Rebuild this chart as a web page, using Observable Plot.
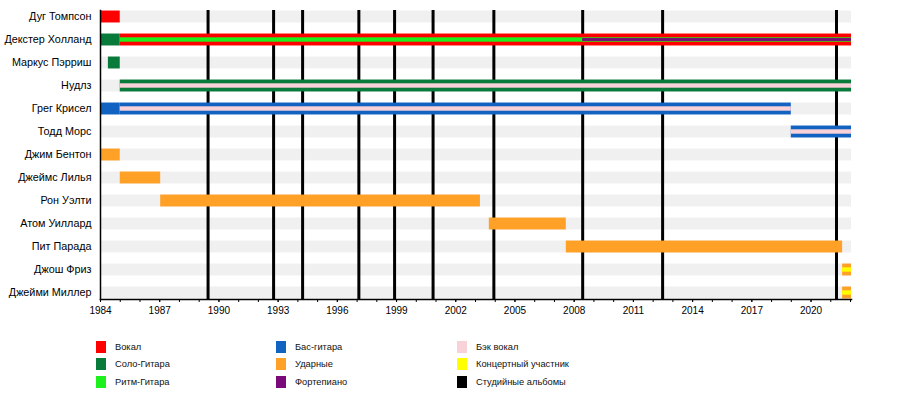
<!DOCTYPE html>
<html>
<head>
<meta charset="utf-8">
<script src="https://cdn.jsdelivr.net/npm/d3@7"></script>
<script src="https://cdn.jsdelivr.net/npm/@observablehq/plot@0.6"></script>
<style>
  body { margin: 0; background: #fff; font-family: "Liberation Sans", Arial, sans-serif; }
  #chart svg { display: block; }
  #legend { position: relative; width: 900px; height: 64px; }
  .item { position: absolute; height: 17.5px; display: flex; align-items: center; font-size: 9.3px; color: #111; }
  .sw { width: 10px; height: 12px; margin-right: 9px; }
</style>
</head>
<body>
<div id="chart"></div>
<div id="legend"></div>
<script>
// Members (rows, top to bottom)
const members = [
  "Дуг Томпсон", "Декстер Холланд", "Маркус Пэрриш", "Нудлз", "Грег Крисел",
  "Тодд Морс", "Джим Бентон", "Джеймс Лилья", "Рон Уэлти", "Атом Уиллард",
  "Пит Парада", "Джош Фриз", "Джейми Миллер"
];

// Roles and colours
const roleKeys   = ["vocals", "lead", "rhythm", "bass", "drums", "piano", "backing", "live", "album"];
const roleLabels = ["Вокал", "Соло-Гитара", "Ритм-Гитара", "Бас-гитара", "Ударные", "Фортепиано", "Бэк вокал", "Концертный участник", "Студийные альбомы"];
const roleColors = ["#ff0000", "#087a3a", "#1ef01e", "#1262c2", "#ffa126", "#7a0a7a", "#f8d2d8", "#ffff00", "#000000"];

const timelineStart = 1984;
const timelineEnd = 2022.05;

// Full-height bars: [member, role, start, end]
const mainSpans = [
  ["Дуг Томпсон", "vocals", 1984, 1985],
  ["Декстер Холланд", "lead", 1984, 1985],
  ["Декстер Холланд", "vocals", 1985, timelineEnd],
  ["Маркус Пэрриш", "lead", 1984.4, 1985],
  ["Нудлз", "lead", 1985, timelineEnd],
  ["Грег Крисел", "bass", 1984, 1985],
  ["Грег Крисел", "bass", 1985, 2019.0],
  ["Тодд Морс", "bass", 2019.0, timelineEnd],
  ["Джим Бентон", "drums", 1984, 1985],
  ["Джеймс Лилья", "drums", 1985, 1987.05],
  ["Рон Уэлти", "drums", 1987.05, 2003.25],
  ["Атом Уиллард", "drums", 2003.7, 2007.6],
  ["Пит Парада", "drums", 2007.6, 2021.6],
  ["Джош Фриз", "drums", 2021.6, timelineEnd],
  ["Джейми Миллер", "drums", 2021.6, timelineEnd]
];

// Medium stripes
const midSpans = [
  ["Декстер Холланд", "rhythm", 1985, timelineEnd],
  ["Нудлз", "backing", 1985, timelineEnd],
  ["Грег Крисел", "backing", 1985, 2019.0],
  ["Тодд Морс", "backing", 2019.0, timelineEnd],
  ["Джош Фриз", "live", 2021.6, timelineEnd],
  ["Джейми Миллер", "live", 2021.6, timelineEnd]
];

// Thin inner stripes
const innerSpans = [
  ["Декстер Холланд", "piano", 2008.43, timelineEnd]
];

// Studio albums (release dates, decimal years)
const albums = [1989.45, 1992.77, 1994.24, 1997.09, 1998.9, 2000.85, 2003.93, 2008.43, 2012.48, 2021.29];

// Axis ticks
const majorTicks = [1984, 1987, 1990, 1993, 1996, 1999, 2002, 2005, 2008, 2011, 2014, 2017, 2020];
const minorTicks = d3.range(1984, 2023);

const colorOf = Object.fromEntries(roleKeys.map((k, i) => [k, roleColors[i]]));
const toObj = ([member, role, start, end]) => ({member, role, start, end});

const step = 23.09;         // row pitch in px
const firstCenter = 16;     // centre of the first row
const inset = h => (step - h) / 2;

const chart = Plot.plot({
  width: 900,
  height: 334,
  marginLeft: 100,
  marginRight: 49,
  marginTop: 10,
  marginBottom: 35,
  style: { fontFamily: "Liberation Sans, Arial, sans-serif", fontSize: "11px", color: "#000", background: "#fff" },
  x: { domain: [timelineStart, timelineEnd], label: null },
  y: { domain: members, range: [firstCenter - step / 2, firstCenter - step / 2 + step * members.length], padding: 0, label: null },
  marks: [
    Plot.barX(members, { x1: () => timelineStart, x2: () => timelineEnd, y: d => d, fill: "#f0f0f0", insetTop: inset(12), insetBottom: inset(12) }),
    Plot.ruleX(albums, { x: d => d, stroke: "#000", strokeWidth: 3 }),
    Plot.barX(mainSpans.map(toObj), { x1: "start", x2: "end", y: "member", fill: d => colorOf[d.role], insetTop: inset(12), insetBottom: inset(12) }),
    Plot.barX(midSpans.map(toObj), { x1: "start", x2: "end", y: "member", fill: d => colorOf[d.role], insetTop: inset(4.5), insetBottom: inset(4.5) }),
    Plot.barX(innerSpans.map(toObj), { x1: "start", x2: "end", y: "member", fill: d => colorOf[d.role], insetTop: inset(3), insetBottom: inset(3) }),
    Plot.frame({ anchor: "left", stroke: "#000", strokeWidth: 1.5 }),
    Plot.frame({ anchor: "bottom", stroke: "#000", strokeWidth: 1.5 }),
    Plot.axisX({ ticks: minorTicks, tickSize: 3, tickFormat: () => "" }),
    Plot.axisX({ ticks: majorTicks, tickSize: 3, tickPadding: 4, tickFormat: d => String(d), fontSize: 10 }),
    Plot.axisY({ tickSize: 0, tickPadding: 9, fontSize: 10.8 })
  ]
});
document.getElementById("chart").append(chart);

// Legend (HTML, below the SVG)
const legend = document.getElementById("legend");
const colLeft = [96, 276, 457];
roleKeys.forEach((k, i) => {
  const col = Math.floor(i / 3), row = i % 3;
  const div = document.createElement("div");
  div.className = "item";
  div.style.left = colLeft[col] + "px";
  div.style.top = (4 + row * 17.5) + "px";
  div.innerHTML = `<span class="sw" style="background:${roleColors[i]}"></span><span>${roleLabels[i]}</span>`;
  legend.append(div);
});
</script>
</body>
</html>
